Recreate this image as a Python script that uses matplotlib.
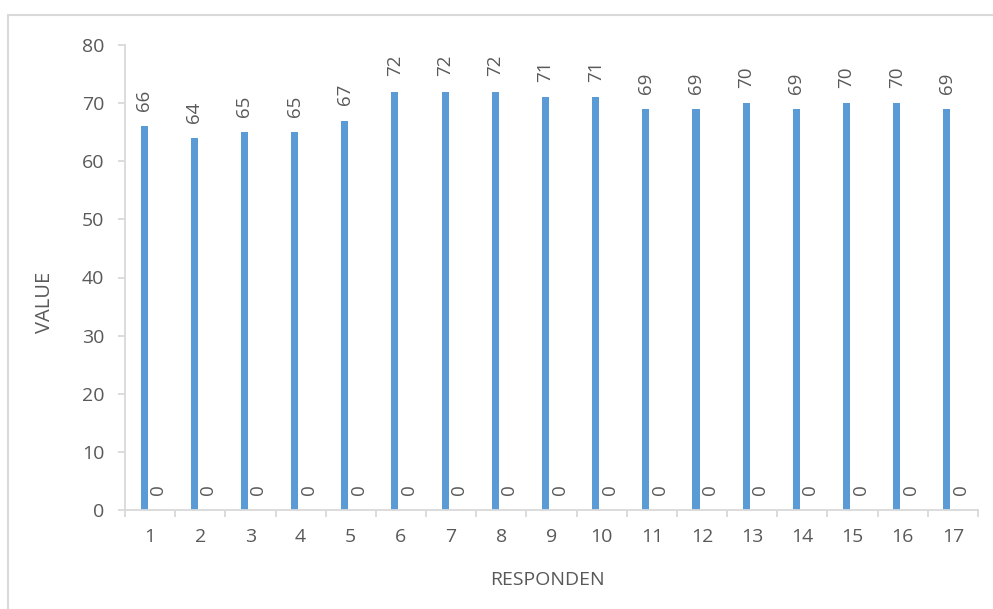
import matplotlib.pyplot as plt
import numpy as np
from matplotlib.patches import Rectangle

responden = [str(i) for i in range(1, 18)]
value = [66, 64, 65, 65, 67, 72, 72, 72, 71, 71, 69, 69, 70, 69, 70, 70, 69]
second = [0] * 17

blue = '#5B9BD5'
grey_text = '#595959'
grey_line = '#D9D9D9'

plt.rcParams['font.family'] = ['Open Sans', 'DejaVu Sans']

fig = plt.figure(figsize=(9.93, 6.09), dpi=100)
# light frame around the chart area
fig.patches.append(Rectangle((8 / 993, -0.05), 1.2, 1 - 15 / 609 + 0.05,
                             transform=fig.transFigure, fill=False,
                             edgecolor=grey_line, linewidth=1.5))

ax = fig.add_axes([125 / 993, 1 - 510 / 609, 853 / 993, 465 / 609])

x = np.arange(len(responden))
w = 0.14
ax.bar(x - 0.12, value, width=w, color=blue, zorder=2)
ax.bar(x + 0.14, second, width=w, color='#ED7D31', zorder=2)

for xi, v in zip(x - 0.12, value):
    ax.annotate(str(v), (xi, v), xytext=(0, 11), textcoords='offset points',
                rotation=90, ha='center', va='bottom', fontsize=13.5, color=grey_text)
for xi, v in zip(x + 0.16, second):
    ax.annotate(str(v), (xi, v), xytext=(0, 11), textcoords='offset points',
                rotation=90, ha='center', va='bottom', fontsize=13.5, color=grey_text)

ax.set_xlim(-0.5, len(responden) - 0.5)
ax.set_ylim(0, 80)
ax.set_yticks(range(0, 81, 10))
ax.set_xticks(x)
ax.set_xticklabels(responden)
ax.set_xticks(np.arange(-0.5, len(responden), 1), minor=True)

ax.tick_params(axis='x', which='major', length=0, pad=13, labelsize=14, labelcolor=grey_text)
ax.tick_params(axis='x', which='minor', length=5, width=1.3, color=grey_line)
ax.tick_params(axis='y', length=5, width=1.3, color=grey_line, pad=10,
               labelsize=14, labelcolor=grey_text)

for side in ['top', 'right']:
    ax.spines[side].set_visible(False)
for side in ['left', 'bottom']:
    ax.spines[side].set_color(grey_line)
    ax.spines[side].set_linewidth(1.3)

ax.set_ylabel('VALUE', fontsize=14.5, color=grey_text)
ax.set_xlabel('RESPONDEN', fontsize=14, color=grey_text)
ax.yaxis.label.set_va('center')
ax.xaxis.label.set_va('center')
ax.yaxis.set_label_coords(-0.094, 0.447)
ax.xaxis.set_label_coords(0.495, -0.1505)

fig.savefig('out.png', dpi=100)
